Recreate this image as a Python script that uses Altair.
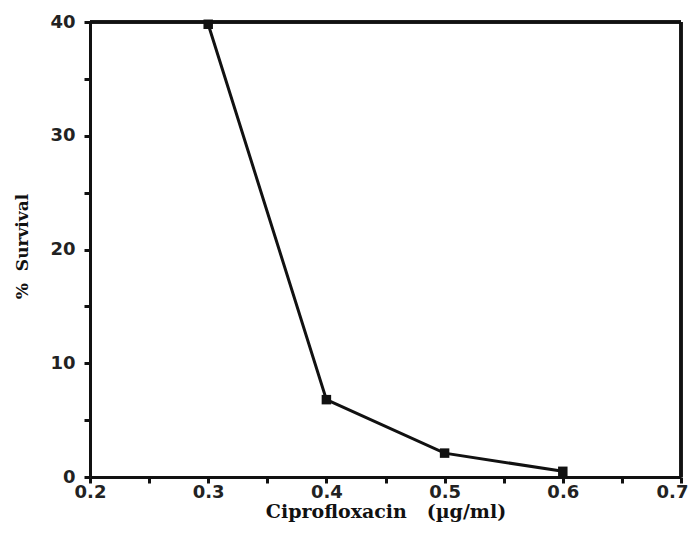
import altair as alt
import pandas as pd

conc = [0.3, 0.4, 0.5, 0.6]
survival = [39.8, 6.8, 2.1, 0.5]
x_ticks = [0.2, 0.25, 0.3, 0.35, 0.4, 0.45, 0.5, 0.55, 0.6, 0.65, 0.7]
y_ticks = [0, 5, 10, 15, 20, 25, 30, 35, 40]

df = pd.DataFrame({"conc": conc, "survival": survival})

x_enc = alt.X("conc:Q", scale=alt.Scale(domain=[0.2, 0.7], nice=False, zero=False),
              axis=alt.Axis(values=x_ticks, format=".1f",
                            labelExpr="round(datum.value*100) % 10 == 0 ? datum.label : ''",
                            labelOffset={"condition": {"test": "datum.value > 0.69", "value": -9}, "value": 0},
                            title="Ciprofloxacin\u00a0\u00a0\u00a0(\u00b5g/ml)",
                            titleFont="DejaVu Serif", titleFontSize=19, titleFontWeight="bold",
                            titleColor="#111", titlePadding=1,
                            labelFont="DejaVu Sans", labelFontSize=18, labelFontWeight="bold",
                            labelColor="#222",
                            labelPadding=0, tickSize=6, tickWidth=3, tickColor="#111",
                            domainWidth=3, domainColor="#111", grid=False, labelFlush=False))
y_enc = alt.Y("survival:Q", scale=alt.Scale(domain=[0, 40], nice=False),
              axis=alt.Axis(values=y_ticks,
                            labelExpr="datum.value % 10 == 0 ? datum.label : ''",
                            title="%\u00a0\u00a0Survival",
                            titleFont="DejaVu Serif", titleFontSize=17, titleFontWeight="bold",
                            titleColor="#111", titlePadding=18, titleY=224,
                            labelFont="DejaVu Sans", labelFontSize=18, labelFontWeight="bold",
                            labelColor="#222",
                            labelPadding=9, tickSize=6, tickWidth=3, tickColor="#111",
                            domainWidth=3, domainColor="#111", grid=False))

line = alt.Chart(df).mark_line(color="#111", strokeWidth=3).encode(x=x_enc, y=y_enc)
pts = alt.Chart(df).mark_square(color="#111", opacity=1, size=90).encode(x="conc:Q", y="survival:Q")
top_border = alt.Chart(df).mark_rule(color="#111", strokeWidth=3).encode(
    x=alt.value(0), x2=alt.value(591), y=alt.value(0))
right_border = alt.Chart(df).mark_rule(color="#111", strokeWidth=3).encode(
    x=alt.value(591), y=alt.value(0), y2=alt.value(455))

chart = (line + pts + top_border + right_border).properties(
    width=591, height=455,
    autosize=alt.AutoSizeParams(type="none"),
    padding={"left": 82, "top": 14, "right": 10, "bottom": 46},
).configure_view(stroke=None).configure(background="white")

chart.save("out.html", embed_options={"renderer": "svg", "actions": False})
